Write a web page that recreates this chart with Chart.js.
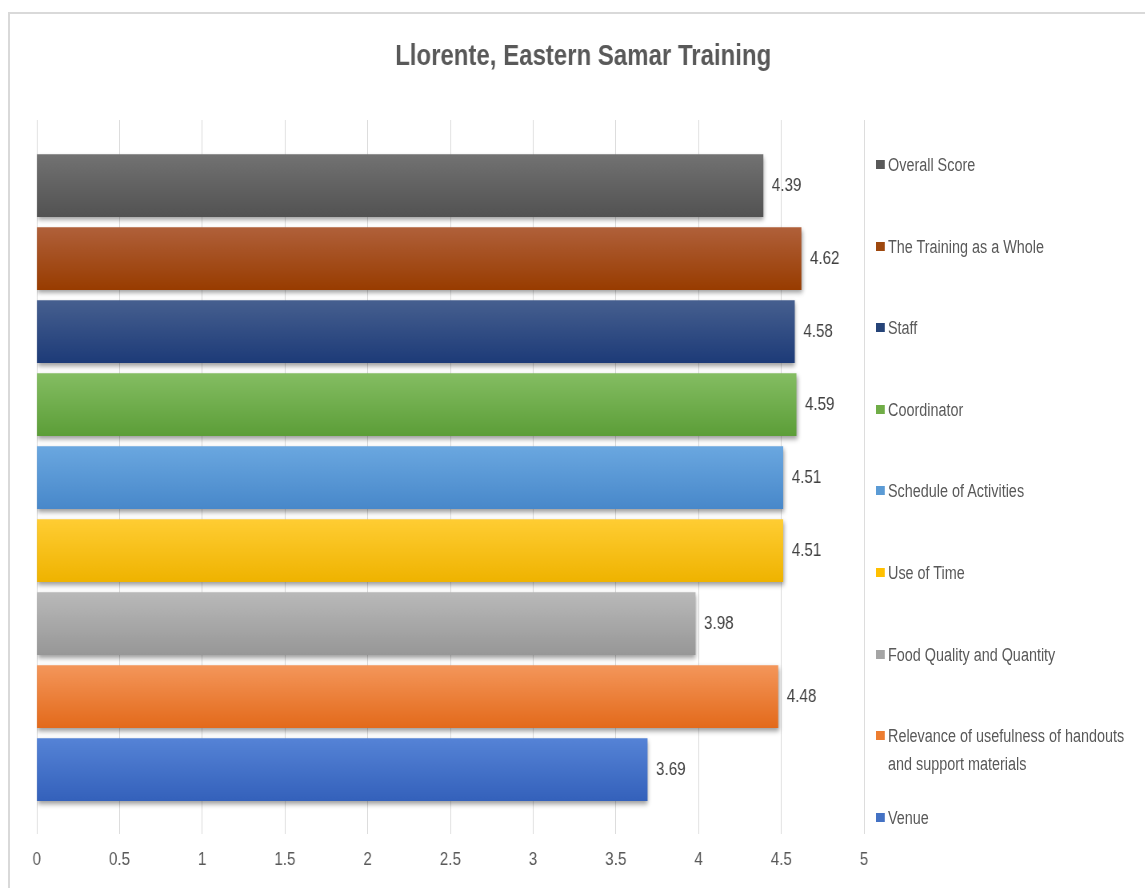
<!DOCTYPE html>
<html>
<head>
<meta charset="utf-8">
<title>Llorente, Eastern Samar Training</title>
<script src="https://cdn.jsdelivr.net/npm/chart.js@4.4.1/dist/chart.umd.min.js"></script>
<style>
  html, body { margin: 0; padding: 0; background: #fff; }
  #wrap { position: relative; width: 1145px; height: 888px; overflow: hidden; }
  #frame { position: absolute; left: 8px; top: 12px; width: 1145px; height: 888px;
           border-top: 2px solid #d9d9d9; border-left: 2px solid #d9d9d9; }
  /* the whole drawing is set in a narrow, condensed look */
  #stage { position: absolute; left: 0; top: 0; width: 1431px; height: 888px;
           transform: scaleX(0.8); transform-origin: 0 0; }
  #chart { position: absolute; left: 0; top: 0; }
  #legend { position: absolute; left: 1095px; top: 151px; margin: 0; padding: 0; list-style: none;
            font: 18px 'Liberation Sans', Arial, sans-serif; color: #595959; }
  #legend li { height: 81.6px; display: flex; align-items: flex-start; line-height: 28px; white-space: nowrap; }
  #legend .box { width: 11px; height: 9px; margin: 9px 4px 0 0; flex: none; }
</style>
</head>
<body>
<div id="wrap">
  <div id="frame"></div>
  <div id="stage">
    <canvas id="chart" width="1431" height="888"></canvas>
    <ul id="legend"></ul>
  </div>
</div>
<script>
const FONT = "'Liberation Sans', Arial, sans-serif";

// rating categories, top to bottom
const categories = [
  'Overall Score',
  'The Training as a Whole',
  'Staff',
  'Coordinator',
  'Schedule of Activities',
  'Use of Time',
  'Food Quality and Quantity',
  ['Relevance of usefulness of handouts', 'and support materials'],
  'Venue'
];
const scores = [4.39, 4.62, 4.58, 4.59, 4.51, 4.51, 3.98, 4.48, 3.69];

const axisMin = 0;
const axisMax = 5;
const axisStep = 0.5;

// legend swatches and bar gradient stops (top -> bottom)
const swatchColors = ['#595959', '#9e480e', '#264478', '#70ad47', '#5b9bd5', '#ffc000', '#a5a5a5', '#ed7d31', '#4472c4'];
const gradTop      = ['#727272', '#b0603a', '#465f8f', '#84bd62', '#6aa7e0', '#ffcd33', '#b9b9b9', '#f4965a', '#5583d6'];
const gradBottom   = ['#525252', '#983c00', '#1d3b78', '#5c9e38', '#4888ca', '#efb300', '#979797', '#e36a1b', '#3461bb'];

const BAR = 62;

function barFill(chart, i) {
  const y = chart.scales.y;
  if (!chart.chartArea || !y) return swatchColors[i];
  const mid = y.getPixelForValue(i);
  const g = chart.ctx.createLinearGradient(0, mid - BAR / 2, 0, mid + BAR / 2);
  g.addColorStop(0, gradTop[i]);
  g.addColorStop(1, gradBottom[i]);
  return g;
}

const labelText = (c) => Array.isArray(c) ? c.join(' ') : c;

// soft drop shadow under the bars + value labels at the bar ends
const barEffects = {
  id: 'barEffects',
  beforeDatasetsDraw(chart) {
    const ctx = chart.ctx;
    ctx.save();
    ctx.shadowColor = 'rgba(0, 0, 0, 0.4)';
    ctx.shadowBlur = 5;
    ctx.shadowOffsetX = 1;
    ctx.shadowOffsetY = 3;
  },
  afterDatasetsDraw(chart) {
    const ctx = chart.ctx;
    ctx.restore();
    ctx.save();
    ctx.font = '19px ' + FONT;
    ctx.fillStyle = '#404040';
    ctx.textBaseline = 'middle';
    ctx.textAlign = 'left';
    chart.data.datasets.forEach((ds, i) => {
      const bar = chart.getDatasetMeta(i).data[0];
      ctx.fillText(ds.data[0].x.toFixed(2), bar.x + 11, bar.y);
    });
    ctx.restore();
  }
};

const chart = new Chart(document.getElementById('chart'), {
  type: 'bar',
  data: {
    datasets: categories.map((c, i) => ({
      label: labelText(c),
      data: [{ x: scores[i], y: i }],
      backgroundColor: (ctx) => barFill(ctx.chart, i),
      borderWidth: 0,
      barThickness: BAR,
      grouped: false
    }))
  },
  options: {
    indexAxis: 'y',
    responsive: false,
    animation: false,
    layout: { padding: { left: 46, right: 19, top: 0, bottom: 1.4 } },
    scales: {
      x: {
        type: 'linear',
        min: axisMin,
        max: axisMax,
        ticks: {
          stepSize: axisStep,
          color: '#595959',
          padding: 15,
          font: { family: FONT, size: 19 },
          callback: (v) => String(v)
        },
        grid: { color: '#d9d9d9', drawTicks: false },
        border: { display: false }
      },
      y: {
        type: 'linear',
        position: 'right',
        reverse: true,
        offset: false,
        min: -0.9,
        max: 8.88,
        ticks: { display: false },
        grid: { display: false },
        border: { display: false },
        afterFit: (scale) => { scale.width = 332; }
      }
    },
    plugins: {
      title: {
        display: true,
        text: 'Llorente, Eastern Samar Training',
        color: '#595959',
        font: { family: FONT, size: 30, weight: 'bold' },
        padding: { top: 39, bottom: 45 }
      },
      legend: { display: false },
      tooltip: { enabled: false }
    }
  },
  plugins: [barEffects]
});

// legend list on the right, one entry per dataset
const legendEl = document.getElementById('legend');
categories.forEach((c, i) => {
  const li = document.createElement('li');
  const box = document.createElement('span');
  box.className = 'box';
  box.style.background = swatchColors[i];
  const txt = document.createElement('span');
  const lines = Array.isArray(c) ? c : [c];
  lines.forEach((line, k) => {
    if (k) txt.appendChild(document.createElement('br'));
    txt.appendChild(document.createTextNode(line));
  });
  li.appendChild(box);
  li.appendChild(txt);
  legendEl.appendChild(li);
});
</script>
</body>
</html>
